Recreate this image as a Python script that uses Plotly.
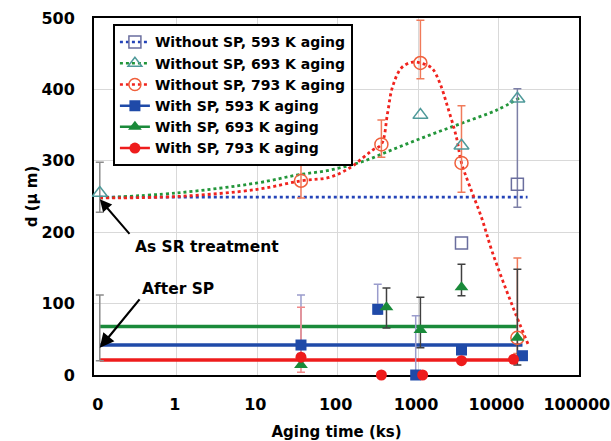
import math
import plotly.graph_objects as go

# A log axis cannot show t = 0, so as-treated samples are drawn here and labelled "0".
ZERO_AT = 0.11

# ---------------- Without SP (open markers, dotted guide curves) ----------------
wo593_t = [3470, 17200]
wo593_d = [185, 267]
wo593_hi = [None, 401]
wo593_lo = [None, 235]

wo693_t = [0, 1070, 3470, 17200]
wo693_d = [255, 364, 321, 387]
wo693_hi = [298, None, None, None]
wo693_lo = [228, None, None, None]

wo793_t = [35, 350, 1070, 3470, 17200]
wo793_d = [272, 323, 437, 297, 52]
wo793_hi = [317, 357, 497, 377, 164]
wo793_lo = [248, 305, 415, 256, 30]

wo593_fit_t = [0, 23000]
wo593_fit_d = [249, 249]

wo693_fit_t = [0, 1, 10, 31, 80, 205, 540, 1390, 3560, 9500, 18200]
wo693_fit_d = [248, 255, 269, 280, 287, 299, 318, 336, 353, 371, 388]

wo793_fit_t = [0, 1, 10, 35, 80, 141, 205, 272, 350, 418, 480, 620, 830, 1070,
               1480, 1850, 2340, 3000, 3470, 4370, 6140, 8400, 14900, 23600]
wo793_fit_d = [248, 250, 260, 272, 277, 290, 304, 315, 323, 367, 403, 430, 438, 437,
               430, 410, 375, 333, 297, 265, 221, 172, 97, 42]

# ---------------- With SP (filled markers, solid mean lines) ----------------
w593_t = [35, 315, 935, 3470, 19900]
w593_d = [42, 92, 0, 35, 27]
w593_hi = [112, 127, 83, None, None]
w593_lo = [30, 85, 0, None, None]

w693_t = [35, 405, 1070, 3470, 17200]
w693_d = [14, 95, 63, 123, 52]
w693_hi = [None, 122, 109, 155, 148]
w693_lo = [None, 66, 38, 111, 14]

w793_t = [35, 350, 1140, 3470, 15400]
w793_d = [25, 0, 0, 20, 22]
w793_hi = [95, None, None, None, None]
w793_lo = [4, None, None, None, None]

w593_fit_t = [0, 19900]
w593_fit_d = [42, 42]
w693_fit_t = [0, 17200]
w693_fit_d = [68, 68]
w793_fit_t = [0, 15400]
w793_fit_d = [21, 21]

# As-peened state (t = 0)
after_sp_t = [0]
after_sp_d = [40]
after_sp_hi = [112]
after_sp_lo = [20]

x_tick_vals = [0, 1, 10, 100, 1000, 10000, 100000]
x_tick_text = ["0", "1", "10", "100", "1000", "10000", "100000"]
x_grid_vals = [1, 10, 100, 1000, 10000]
y_tick_vals = [0, 100, 200, 300, 400, 500]

series_names = [
    "Without SP, 593 K aging",
    "Without SP, 693 K aging",
    "Without SP, 793 K aging",
    "With SP, 593 K aging",
    "With SP, 693 K aging",
    "With SP, 793 K aging",
]

FONT = "DejaVu Sans"
BLUE_DOT, GREEN_DOT, RED_DOT = "#2444b8", "#23963a", "#f0231e"
BLUE, GREEN, RED = "#1f4aa8", "#1a8a3a", "#ee1c1c"
SQ_OPEN, TRI_OPEN, CIR_OPEN = "#6a6e9e", "#4f9a9a", "#f0603c"


def at(ts):
    return [ZERO_AT if t == 0 else t for t in ts]


def whiskers(t, d, hi, lo, color):
    keep = [i for i, h in enumerate(hi) if h is not None]
    return go.Scatter(
        x=at([t[i] for i in keep]), y=[d[i] for i in keep], mode="markers",
        marker=dict(size=1, opacity=0), showlegend=False, hoverinfo="skip",
        cliponaxis=False,
        error_y=dict(type="data", symmetric=False,
                     array=[hi[i] - d[i] for i in keep],
                     arrayminus=[d[i] - lo[i] for i in keep],
                     color=color, thickness=1.5, width=4),
    )


def curve(t, d, color, dash, width, shape="linear"):
    return go.Scatter(x=at(t), y=d, mode="lines", showlegend=False, hoverinfo="skip",
                      line=dict(color=color, width=width, dash=dash, shape=shape))


def points(t, d, symbol, color, size, lw=0):
    return go.Scatter(x=at(t), y=d, mode="markers", showlegend=False, cliponaxis=False,
                      marker=dict(symbol=symbol, color=color, size=size,
                                  line=dict(color=color, width=lw)))


fig = go.Figure()

# legend entries (line + marker samples)
legend_styles = [
    (BLUE_DOT, "dot", "square-open", SQ_OPEN, 12, 1.5),
    (GREEN_DOT, "dot", "triangle-up-open", TRI_OPEN, 12, 1.5),
    (RED_DOT, "dot", "circle-open", CIR_OPEN, 12, 1.5),
    (BLUE, "solid", "square", BLUE, 11, 0),
    (GREEN, "solid", "triangle-up", GREEN, 12, 0),
    (RED, "solid", "circle", RED, 11, 0),
]
for name, (lc, dash, sym, mc, ms, mlw) in zip(series_names, legend_styles):
    fig.add_trace(go.Scatter(
        x=[None], y=[None], name=name, mode="lines+markers",
        line=dict(color=lc, width=2.5, dash=dash),
        marker=dict(symbol=sym, color=mc, size=ms, line=dict(color=mc, width=mlw)),
    ))

# dotted guide curves
fig.add_trace(curve(wo593_fit_t, wo593_fit_d, BLUE_DOT, "dot", 2.8))
fig.add_trace(curve(wo693_fit_t, wo693_fit_d, GREEN_DOT, "dot", 2.8, "spline"))
fig.add_trace(curve(wo793_fit_t, wo793_fit_d, RED_DOT, "dot", 2.8, "spline"))

# solid mean lines
fig.add_trace(curve(w693_fit_t, w693_fit_d, GREEN, "solid", 3.5))
fig.add_trace(curve(w593_fit_t, w593_fit_d, BLUE, "solid", 3.5))
fig.add_trace(curve(w793_fit_t, w793_fit_d, RED, "solid", 3.5))

# error bars
fig.add_trace(whiskers(after_sp_t, after_sp_d, after_sp_hi, after_sp_lo, "#8a8a8a"))
fig.add_trace(whiskers(wo593_t, wo593_d, wo593_hi, wo593_lo, "#7c7fa6"))
fig.add_trace(whiskers(wo693_t, wo693_d, wo693_hi, wo693_lo, "#8c8c8c"))
fig.add_trace(whiskers(wo793_t, wo793_d, wo793_hi, wo793_lo, "#f07a5a"))
fig.add_trace(whiskers(w593_t, w593_d, w593_hi, w593_lo, "#9a9ccc"))
fig.add_trace(whiskers(w693_t, w693_d, w693_hi, w693_lo, "#404040"))
fig.add_trace(whiskers(w793_t, w793_d, w793_hi, w793_lo, "#f08a8a"))

# markers
fig.add_trace(points(wo593_t, wo593_d, "square-open", SQ_OPEN, 12, 1.5))
fig.add_trace(points(wo693_t, wo693_d, "triangle-up-open", TRI_OPEN, 13, 1.5))
fig.add_trace(points(wo793_t, wo793_d, "circle-open", CIR_OPEN, 13, 1.5))
fig.add_trace(points(w593_t, w593_d, "square", BLUE, 11))
fig.add_trace(points(w693_t, w693_d, "triangle-up", GREEN, 12))
fig.add_trace(points(w793_t, w793_d, "circle", RED, 11))

# invisible companion axis that carries only the decade grid lines
fig.add_trace(go.Scatter(x=[None], y=[None], xaxis="x2", showlegend=False, hoverinfo="skip"))

x_range = [math.log10(ZERO_AT) - 0.072, 5.002]

fig.update_layout(
    width=611, height=441,
    margin=dict(l=94, r=32, t=18, b=66, autoexpand=False),
    paper_bgcolor="white", plot_bgcolor="white",
    font=dict(family=FONT, color="black"),
    showlegend=True,
    legend=dict(
        x=0.039, y=0.982, xanchor="left", yanchor="top",
        bgcolor="white", bordercolor="black", borderwidth=2,
        font=dict(family=FONT, size=14, weight="bold", color="black"),
        itemwidth=30,
    ),
    xaxis=dict(
        type="log", range=x_range, automargin=False,
        tickvals=at(x_tick_vals), ticktext=x_tick_text,
        showgrid=False, zeroline=False,
        showline=True, linecolor="black", linewidth=2, mirror=True,
        ticks="", ticklabelstandoff=14, ticklabelshift=-2, ticklabeloverflow="allow",
        tickfont=dict(family=FONT, size=16, weight="bold", color="black"),
        title=dict(text="Aging time (ks)", standoff=24,
                   font=dict(family=FONT, size=15, weight="bold", color="black")),
        layer="below traces",
    ),
    xaxis2=dict(
        type="log", range=x_range, overlaying="x", side="bottom", automargin=False,
        tickvals=x_grid_vals, showticklabels=False, ticks="",
        showgrid=True, gridcolor="#d9d9d9", gridwidth=1, zeroline=False,
        showline=False, layer="below traces",
    ),
    yaxis=dict(
        range=[0, 500], tickvals=y_tick_vals, automargin=False,
        showgrid=True, gridcolor="#d9d9d9", gridwidth=1, zeroline=False,
        showline=True, linecolor="black", linewidth=2, mirror=True,
        ticks="", ticklabelstandoff=14,
        tickfont=dict(family=FONT, size=16, weight="bold", color="black"),
        title=dict(text="d (μ m)", standoff=0,
                   font=dict(family=FONT, size=15, weight="bold", color="black")),
        layer="below traces",
    ),
    annotations=[
        dict(x=math.log10(ZERO_AT), y=246, xref="x", yref="y", text="",
             showarrow=True, ax=31, ay=36, arrowhead=2, arrowsize=1.2,
             arrowwidth=2, arrowcolor="black", standoff=0),
        dict(x=math.log10(ZERO_AT), y=38, xref="x", yref="y", text="",
             showarrow=True, ax=41, ay=-50, arrowhead=2, arrowsize=1.3,
             arrowwidth=2.2, arrowcolor="black", standoff=0),
        dict(x=(133 - 94) / 485, y=(375 - 247) / 357, xref="paper", yref="paper",
             text="As SR treatment", showarrow=False, xanchor="left", yanchor="middle",
             font=dict(family=FONT, size=15.5, weight="bold", color="black")),
        dict(x=(140 - 94) / 485, y=(375 - 289) / 357, xref="paper", yref="paper",
             text="After SP", showarrow=False, xanchor="left", yanchor="middle",
             font=dict(family=FONT, size=15.5, weight="bold", color="black")),
    ],
)

fig.write_html("out.html")
